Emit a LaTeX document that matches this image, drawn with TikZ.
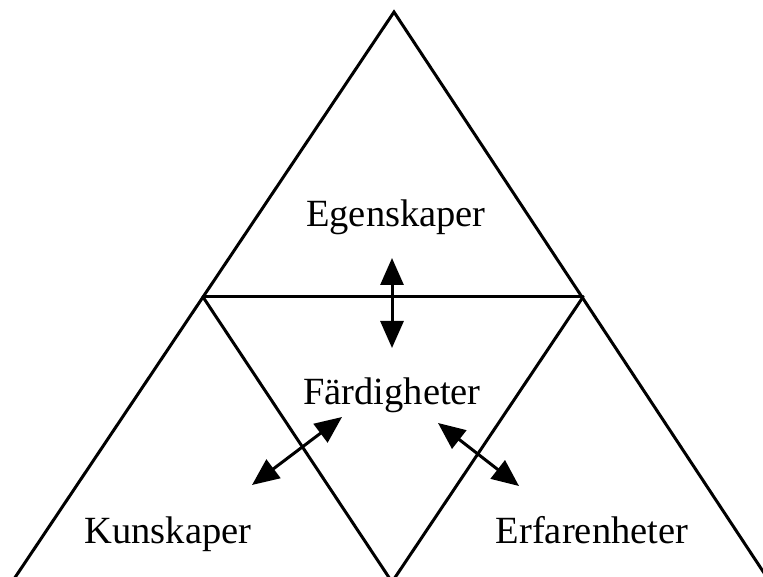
\documentclass[tikz,border=0pt]{standalone}
\usepackage{fontspec}
\setmainfont{Liberation Serif}
\usetikzlibrary{arrows.meta}

\begin{document}
\begin{tikzpicture}[x=1pt,y=-1pt,
  lbl/.style={font=\fontsize{38.5}{42}\selectfont,anchor=base,inner sep=0pt},
  edge/.style={line width=3pt,line cap=round},
  arr/.style={{Triangle[length=27pt,width=23pt]}-{Triangle[length=27pt,width=23pt]},line width=3pt}]
  \useasboundingbox (0,0) rectangle (763,577);
  \clip (0,0) rectangle (763,577);
  % corners
  \coordinate (top) at (394,12);
  \coordinate (bl) at (12,582);
  \coordinate (br) at (770,582);
  \coordinate (ml) at (203,297);
  \coordinate (mr) at (583,297);
  \coordinate (bm) at (392,582);
  \draw[edge] (bl) -- (top) -- (br);
  \draw[edge] (ml) -- (mr);
  \draw[edge] (ml) -- (bm) -- (mr);
  % texts
  \node[lbl] (ege) at (396,227) {Egenskaper};
  \node[lbl] (far) at (392,404) {Färdigheter};
  \node[lbl] (kun) at (168,543) {Kunskaper};
  \node[lbl] (erf) at (592,543) {Erfarenheter};
  % arrows
  \coordinate (a1) at (392,258);
  \coordinate (a2) at (392,348);
  \coordinate (b1) at (252,485);
  \coordinate (b2) at (342,417);
  \coordinate (c1) at (438,423);
  \coordinate (c2) at (519,486);
  \draw[arr] (a1) -- (a2);
  \draw[arr] (b1) -- (b2);
  \draw[arr] (c1) -- (c2);
\end{tikzpicture}
\end{document}
